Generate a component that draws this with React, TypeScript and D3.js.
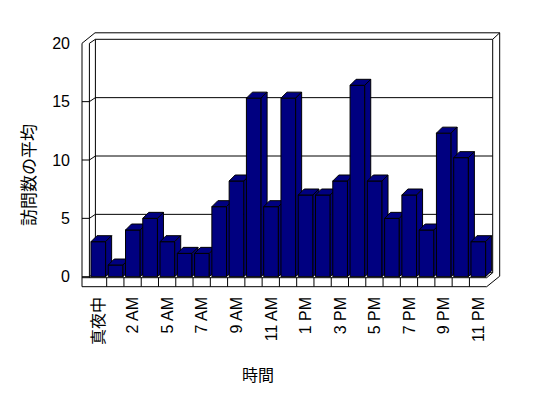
import React, { useEffect, useRef } from "react";
import * as d3 from "d3";

// hours of the day (one early-morning hour has no data)
const categories = [
  "真夜中", "1 AM", "2 AM", "4 AM", "5 AM", "6 AM", "7 AM", "8 AM", "9 AM", "10 AM", "11 AM", "12 PM",
  "1 PM", "2 PM", "3 PM", "4 PM", "5 PM", "6 PM", "7 PM", "8 PM", "9 PM", "10 PM", "11 PM",
];
const visits = [3, 1, 4, 5, 3, 2, 2, 6, 8.2, 15.3, 6, 15.3, 7, 7, 8.2, 16.4, 8.2, 5, 7, 4, 12.3, 10.2, 3];
const yTicks = [0, 5, 10, 15, 20];
const yTitle = "訪問数の平均";
const xTitle = "時間";

const App = () => {
  const ref = useRef<SVGSVGElement>(null);

  useEffect(() => {
    const W = 548;
    const H = 398;
    const font = "'Liberation Sans', Arial, 'Noto Sans CJK JP', sans-serif";

    const svg = d3.select(ref.current);
    svg.selectAll("*").remove();
    svg.attr("width", W).attr("height", H);

    const x = d3.scaleBand<string>().domain(categories).range([89.4, 486.7]);
    const y = d3.scaleLinear().domain([0, 20]).range([276.7, 43.3]);

    const outerL = 82;
    const innerL = x.range()[0];
    const right = x.range()[1];
    const floorTop = 277.7;
    const floorBot = 286.7;
    const wall = { dx: 6, dy: -4 }; // front -> back wall face
    const outer = { dx: 13, dy: -10.5 }; // front -> back of the wall slab
    const bar = { dx: 6, dy: -6 };

    const frame = svg.append("g").attr("fill", "none").attr("stroke", "#000").attr("stroke-width", 1);

    // outline of the box
    frame
      .append("path")
      .attr("fill", "#fff")
      .attr(
        "d",
        `M${outerL},${floorBot} L${outerL},${y(20)} L${outerL + outer.dx},${y(20) + outer.dy}` +
          ` L${right + outer.dx},${y(20) + outer.dy} L${right + outer.dx},${floorBot + outer.dy}` +
          ` L${right},${floorBot} Z`
      );

    const bwL = innerL + wall.dx;
    const bwR = right + wall.dx;
    const bwT = y(20) + wall.dy;
    const bwB = y(0) + wall.dy;

    frame
      .append("path")
      .attr(
        "d",
        `M${innerL},${floorTop} L${innerL},${y(20)} L${bwL},${bwT} L${bwR},${bwT}` +
          ` L${right + outer.dx},${y(20) + outer.dy}` +
          ` M${bwR},${bwT} L${bwR},${bwB} L${right},${floorTop}` +
          ` M${bwL},${bwT} L${bwL},${bwB}` +
          ` M${outerL},${floorTop} L${right},${floorTop}`
      );

    // gridlines: tick on the left wall, then across the back wall
    frame
      .selectAll(".grid")
      .data(yTicks.slice(0, -1))
      .enter()
      .append("path")
      .attr("class", "grid")
      .attr(
        "d",
        (d) =>
          `M${outerL},${y(d)} L${innerL},${y(d)} L${bwL},${y(d) + wall.dy} L${bwR},${y(d) + wall.dy}`
      );

    // category ticks on the floor edge
    frame
      .selectAll(".ctick")
      .data(categories.slice(1))
      .enter()
      .append("line")
      .attr("class", "ctick")
      .attr("x1", (d) => x(d)!)
      .attr("x2", (d) => x(d)!)
      .attr("y1", floorTop)
      .attr("y2", floorBot);

    // 3d columns
    const bw = x.bandwidth();
    const bars = svg
      .append("g")
      .attr("fill", "#000080")
      .attr("stroke", "#000")
      .attr("stroke-width", 1)
      .attr("stroke-linejoin", "miter");

    categories.forEach((c, i) => {
      const x0 = x(c)! + bw * 0.09;
      const x1 = x0 + bw * 0.85;
      const top = y(visits[i]);
      const bot = y(0);
      const g = bars.append("g");
      g.append("path").attr("d", `M${x0},${bot} L${x0},${top} L${x1},${top} L${x1},${bot} Z`);
      g.append("path").attr(
        "d",
        `M${x0},${top} L${x0 + bar.dx},${top + bar.dy} L${x1 + bar.dx},${top + bar.dy} L${x1},${top} Z`
      );
      g.append("path").attr(
        "d",
        `M${x1},${top} L${x1 + bar.dx},${top + bar.dy} L${x1 + bar.dx},${bot + bar.dy} L${x1},${bot} Z`
      );
    });

    // value axis labels
    const yAxis = svg
      .append("g")
      .attr("transform", "translate(73,0)")
      .call(d3.axisLeft(y).tickValues(yTicks).tickSize(0).tickPadding(3));
    yAxis.select(".domain").remove();
    yAxis.selectAll("text").attr("font-size", 16).attr("font-family", font).attr("fill", "#000");

    // category labels, every second hour
    svg
      .append("g")
      .selectAll("text")
      .data(categories.filter((_, i) => i % 2 === 0))
      .enter()
      .append("text")
      .attr("transform", (d) => `translate(${x(d)! + bw / 2},297) rotate(-90)`)
      .attr("text-anchor", "end")
      .attr("dy", "0.36em")
      .attr("font-size", 16)
      .attr("font-family", font)
      .attr("fill", "#000")
      .text((d) => d);

    svg
      .append("text")
      .attr("transform", "translate(29,175) rotate(-90)")
      .attr("text-anchor", "middle")
      .attr("dominant-baseline", "central")
      .attr("font-size", 17)
      .attr("font-family", font)
      .attr("fill", "#000")
      .text(yTitle);

    svg
      .append("text")
      .attr("x", 258)
      .attr("y", 375)
      .attr("text-anchor", "middle")
      .attr("dominant-baseline", "central")
      .attr("font-size", 16)
      .attr("font-family", font)
      .attr("fill", "#000")
      .text(xTitle);
  }, []);

  return (
    <svg
      ref={ref}
      style={{ position: "absolute", left: 0, top: 0, background: "#fff", display: "block" }}
    />
  );
};

export default App;
